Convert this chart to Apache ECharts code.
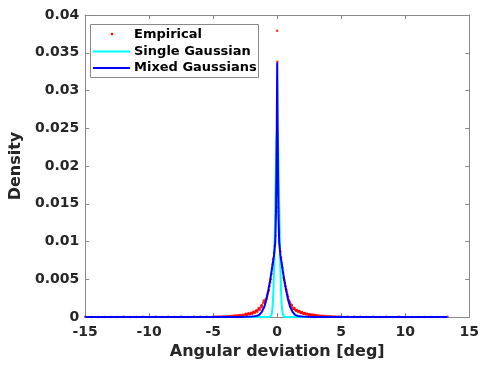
<!DOCTYPE html>
<html>
<head>
<meta charset="utf-8">
<script src="https://cdn.jsdelivr.net/npm/echarts@6/dist/echarts.min.js"></script>
<style>
html,body{margin:0;padding:0;background:#fff;}
#chart{width:482px;height:365px;}
</style>
</head>
<body>
<div id="chart"></div>
<script>
// ---- Data ----
const xTicks = [-15, -10, -5, 0, 5, 10, 15];
const yTicks = [0, 0.005, 0.01, 0.015, 0.02, 0.025, 0.03, 0.035, 0.04];
const seriesNames = ['Empirical', 'Single Gaussian', 'Mixed Gaussians'];

// Empirical histogram density (red dots)
const empX = [
  -15,-14.5,-14,-13.5,-13,-12.5,-12,-11.5,-11,-10.5,-10,-9.5,-9,-8.5,-8,-7.5,-7,-6.5,-6,-5.5,
  -5.0,-4.9,-4.8,-4.7,-4.6,-4.5,-4.4,-4.3,-4.2,-4.1,-4.0,-3.9,-3.8,-3.7,-3.6,-3.5,-3.4,-3.3,-3.2,-3.1,
  -3.0,-2.9,-2.8,-2.7,-2.6,-2.5,-2.4,-2.3,-2.2,-2.1,-2.0,-1.9,-1.8,-1.7,-1.6,-1.5,-1.4,-1.3,-1.2,-1.1,
  -1.0,-0.9,-0.8,-0.7,-0.6,-0.5,
  -2.45,-2.35,-2.25,-2.15,-2.05,-1.95,-1.85,-1.75,-1.65,-1.55,-1.45,-1.35,-1.25,-1.15,-1.05,-0.95,-0.85,-0.75,-0.65,-0.55,
  -0.45,-0.4,-0.35,-0.3,-0.25,-0.2,-0.15,-0.1,-0.05,-0.01,0.01,0.05,0.1,0.15,0.2,0.25,0.3,0.35,0.4,0.45,
  0.5,0.6,0.7,0.8,0.9,1.0,1.1,1.2,1.3,1.4,1.5,1.6,1.7,1.8,1.9,2.0,2.1,2.2,2.3,2.4,
  0.55,0.65,0.75,0.85,0.95,1.05,1.15,1.25,1.35,1.45,1.55,1.65,1.75,1.85,1.95,2.05,2.15,2.25,2.35,2.45,2.55,2.65,2.75,2.85,2.95,
  2.5,2.6,2.7,2.8,2.9,3.0,3.1,3.2,3.3,3.4,3.5,3.6,3.7,3.8,3.9,4.0,4.1,4.2,4.3,4.4,
  4.5,4.6,4.7,4.8,4.9,5.0,
  5.5,6,6.5,7,7.5,8,8.5,9,9.5,10,10.5,11,11.5,12,12.5,13,13.3
];
const empY = [
  0.00004,0.00001,0.00002,0.00001,0.00002,0.00001,0.00003,0.00002,0.00002,0.00003,0.00002,0.00003,0.00002,0.00003,0.00002,0.00003,0.00002,0.00004,0.00003,0.00004,
  0.00004,0.00003,0.00005,0.00004,0.00005,0.00004,0.00006,0.00005,0.00007,0.00006,0.00008,0.0001,0.00009,0.00015,0.00011,0.00018,0.00014,0.0002,0.00017,0.00024,
  0.00021,0.00028,0.00024,0.00032,0.00027,0.00036,0.00031,0.00041,0.00045,0.0004,0.0005,0.00058,0.00064,0.00074,0.00084,0.00098,0.0011,0.0013,0.0016,0.0019,
  0.0021,0.0024,0.0028,0.0034,0.0041,0.0050,
  0.00046,0.00031,0.0005,0.00038,0.00058,0.00045,0.0007,0.00058,0.00088,0.0007,0.0012,0.00098,0.0015,0.0013,0.0022,0.0019,0.0024,0.0031,0.0036,0.0046,
  0.0057,0.0064,0.0070,0.0077,0.0085,0.0094,0.0108,0.0140,0.0215,0.0379,0.0338,0.0222,0.0145,0.0112,0.0096,0.0087,0.0079,0.0072,0.0066,0.0059,
  0.0052,0.0045,0.0037,0.0030,0.0023,0.0019,0.0015,0.00128,0.0011,0.00098,0.00088,0.0008,0.00073,0.00064,0.00059,0.00052,0.00048,0.00044,0.00041,0.00037,
  0.0049,0.0041,0.0034,0.0027,0.0021,0.0017,0.0016,0.0011,0.0012,0.00085,0.00095,0.00068,0.0008,0.00055,0.00066,0.00045,0.00053,0.00038,0.00044,0.00031,0.00038,0.00026,0.00033,0.00022,0.00028,
  0.00034,0.00029,0.00031,0.00025,0.00027,0.00022,0.00024,0.00019,0.00021,0.00016,0.00018,0.00013,0.00015,0.00011,0.00012,0.00009,0.0001,0.00007,0.00008,0.00006,
  0.00007,0.00005,0.00006,0.00004,0.00005,0.00004,
  0.00004,0.00003,0.00004,0.00002,0.00003,0.00002,0.00003,0.00002,0.00003,0.00002,0.00002,0.00001,0.00002,0.00001,0.00002,0.00001,0.00004
];

// Single Gaussian fit (cyan)
const singleX = [-15,-1,-0.6,-0.5,-0.45,-0.4,-0.35,-0.3,-0.25,-0.2,-0.15,-0.1,-0.05,0,0.05,0.1,0.15,0.2,0.25,0.3,0.35,0.4,0.45,0.5,0.6,1,13.3];
const singleY = [0,0,0.00001,0.0001,0.00028,0.0007,0.0016,0.0034,0.0062,0.0103,0.0152,0.0200,0.0237,0.0250,0.0237,0.0200,0.0152,0.0103,0.0062,0.0034,0.0016,0.0007,0.00028,0.0001,0.00001,0,0];

// Mixed Gaussians fit (blue)
const mixedX = [-15,-5,-4,-3,-2.5,-2,-1.8,-1.6,-1.4,-1.2,-1.0,-0.85,-0.7,-0.55,-0.44,-0.35,-0.25,-0.15,-0.1,-0.06,-0.03,0,0.03,0.06,0.1,0.15,0.25,0.35,0.44,0.55,0.7,0.85,1.0,1.2,1.4,1.6,1.8,2,2.5,3,4,5,13.3];
const mixedY = [0,0,0.000002,0.00001,0.00003,0.00007,0.0001,0.00016,0.0003,0.0007,0.0014,0.0023,0.0035,0.0049,0.0061,0.0071,0.0082,0.0100,0.0135,0.0190,0.0265,0.0337,0.0265,0.0190,0.0135,0.0100,0.0082,0.0071,0.0061,0.0049,0.0035,0.0023,0.0014,0.0007,0.0003,0.00016,0.0001,0.00007,0.00003,0.00001,0.000002,0,0];

const zip = (xs, ys) => xs.map((x, i) => [x, ys[i]]);

const FONT = 'DejaVu Sans';
const AXIS_COLOR = '#8a8a8a';
const TEXT_COLOR = '#262626';

const chart = echarts.init(document.getElementById('chart'), null, {renderer: 'canvas'});

const xBase = {
  type: 'value', min: xTicks[0], max: xTicks[xTicks.length - 1], interval: 5,
  axisLine: {show: true, onZero: false, lineStyle: {color: AXIS_COLOR, width: 1}},
  axisTick: {show: true, inside: true, length: 4, lineStyle: {color: AXIS_COLOR}},
  splitLine: {show: false}
};
const yBase = {
  type: 'value', min: yTicks[0], max: yTicks[yTicks.length - 1], interval: 0.005,
  axisLine: {show: true, onZero: false, lineStyle: {color: AXIS_COLOR, width: 1}},
  axisTick: {show: true, inside: true, length: 4, lineStyle: {color: AXIS_COLOR}},
  splitLine: {show: false}
};

chart.setOption({
  animation: false,
  backgroundColor: '#fff',
  grid: {left: 80, right: 12, top: 15, bottom: 47, containLabel: false},
  xAxis: [
    Object.assign({}, xBase, {
      position: 'bottom',
      name: 'Angular deviation [deg]', nameLocation: 'middle', nameGap: 26,
      nameTextStyle: {fontFamily: FONT, fontWeight: 'bold', fontSize: 16, color: TEXT_COLOR},
      axisLabel: {show: true, margin: 8, fontFamily: FONT, fontWeight: 'bold', fontSize: 14, color: TEXT_COLOR,
        formatter: v => String(v)}
    }),
    Object.assign({}, xBase, {position: 'top', axisLabel: {show: false}})
  ],
  yAxis: [
    Object.assign({}, yBase, {
      position: 'left',
      name: 'Density', nameLocation: 'middle', nameGap: 55,
      nameTextStyle: {fontFamily: FONT, fontWeight: 'bold', fontSize: 16, color: TEXT_COLOR},
      axisLabel: {show: true, margin: 6, fontFamily: FONT, fontWeight: 'bold', fontSize: 14, color: TEXT_COLOR,
        formatter: v => String(parseFloat(v.toFixed(3)))}
    }),
    Object.assign({}, yBase, {position: 'right', axisLabel: {show: false}})
  ],
  series: [
    {
      name: seriesNames[0], type: 'scatter', xAxisIndex: 0, yAxisIndex: 0,
      data: zip(empX, empY), symbol: 'circle', symbolSize: 2.5,
      itemStyle: {color: '#ff0000'}, silent: true, z: 2
    },
    {
      name: seriesNames[1], type: 'line', xAxisIndex: 0, yAxisIndex: 0,
      data: zip(singleX, singleY), showSymbol: false, smooth: false,
      lineStyle: {color: '#00ffff', width: 2}, itemStyle: {color: '#00ffff'}, silent: true, z: 3
    },
    {
      name: seriesNames[2], type: 'line', xAxisIndex: 0, yAxisIndex: 0,
      data: zip(mixedX, mixedY), showSymbol: false, smooth: false,
      lineStyle: {color: '#0000ff', width: 2}, itemStyle: {color: '#0000ff'}, silent: true, z: 4
    }
  ],
  graphic: [
    {type: 'rect', z: 100, shape: {x: 90.5, y: 24.5, width: 168, height: 53},
      style: {fill: '#ffffff', stroke: AXIS_COLOR, lineWidth: 1}},
    {type: 'circle', z: 101, shape: {cx: 112, cy: 34, r: 1.3}, style: {fill: '#ff0000'}},
    {type: 'line', z: 101, shape: {x1: 93, y1: 51.5, x2: 130, y2: 51.5}, style: {stroke: '#00ffff', lineWidth: 2}},
    {type: 'line', z: 101, shape: {x1: 93, y1: 68, x2: 130, y2: 68}, style: {stroke: '#0000ff', lineWidth: 2}},
    {type: 'text', z: 101, x: 134, y: 34.5, style: {text: seriesNames[0], fill: '#000', font: 'bold 13px "DejaVu Sans"', verticalAlign: 'middle', textAlign: 'left'}},
    {type: 'text', z: 101, x: 134, y: 51.5, style: {text: seriesNames[1], fill: '#000', font: 'bold 13px "DejaVu Sans"', verticalAlign: 'middle', textAlign: 'left'}},
    {type: 'text', z: 101, x: 134, y: 68, style: {text: seriesNames[2], fill: '#000', font: 'bold 13px "DejaVu Sans"', verticalAlign: 'middle', textAlign: 'left'}}
  ]
});
</script>
</body>
</html>
